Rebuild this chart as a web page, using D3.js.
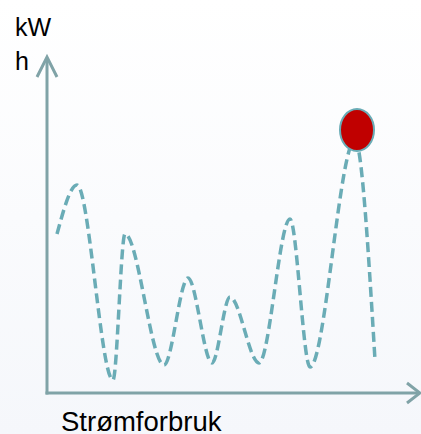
<!DOCTYPE html>
<html><head><meta charset="utf-8">
<script src="https://cdn.jsdelivr.net/npm/d3@7"></script>
<style>html,body{margin:0;padding:0;background:#fafbfd;}svg{display:block;}</style>
</head><body>
<script>
// Data (arbitrary units: x = position along consumption axis, y = kWh)
const xValues = [10, 30, 66, 78, 117, 141, 165, 183, 212, 243, 263, 308, 328];
const yValues = [159, 208, 13, 159, 28, 115, 30, 96, 30, 174, 26, 253, 33];
const peakMarker = {x: 310, y: 263};
const yLabelLines = ["kW", "h"];
const xLabel = "Strømforbruk";

const W = 421, H = 434;
const svg = d3.select("body").append("svg").attr("width", W).attr("height", H);

const defs = svg.append("defs");
const g = defs.append("linearGradient").attr("id","bg").attr("x1",0).attr("y1",0).attr("x2",0).attr("y2",1);
g.append("stop").attr("offset","0%").attr("stop-color","#ffffff");
g.append("stop").attr("offset","100%").attr("stop-color","#f5f7fb");
svg.append("rect").attr("width",W).attr("height",H).attr("fill","url(#bg)");

const x = d3.scaleLinear().domain([0, 373]).range([47, 420]);
const y = d3.scaleLinear().domain([0, 336]).range([393, 57]);

const axisColor = "#80a3a7";
// axes
svg.append("line").attr("x1", x(0)).attr("y1", y(0)+1.5).attr("x2", x(0)).attr("y2", y(336)+2)
  .attr("stroke", axisColor).attr("stroke-width", 3);
svg.append("line").attr("x1", x(0)-1.5).attr("y1", y(0)).attr("x2", x(373)-2).attr("y2", y(0))
  .attr("stroke", axisColor).attr("stroke-width", 3);
// arrowheads
svg.append("path").attr("d", `M${x(0)-10},${y(336)+20} L${x(0)},${y(336)} L${x(0)+10},${y(336)+20}`)
  .attr("fill","none").attr("stroke", axisColor).attr("stroke-width", 3);
svg.append("path").attr("d", `M${x(373)-13},${y(0)-10} L${x(373)},${y(0)} L${x(373)-13},${y(0)+10}`)
  .attr("fill","none").attr("stroke", axisColor).attr("stroke-width", 3);

// curve
const pts = xValues.map((v,i)=>[v, yValues[i]]);
const line = d3.line().x(d=>x(d[0])).y(d=>y(d[1])).curve(d3.curveMonotoneX);
svg.append("path").attr("d", line(pts)).attr("fill","none")
  .attr("stroke","#6aacb6").attr("stroke-width",3.5).attr("stroke-dasharray","10,5");

// marker
svg.append("ellipse").attr("cx", x(peakMarker.x)).attr("cy", y(peakMarker.y))
  .attr("rx", 17).attr("ry", 21).attr("fill","#c00000").attr("stroke","#6aacb6").attr("stroke-width",2);

// labels
const t = svg.append("text").attr("font-family","Liberation Sans, Arial, sans-serif").attr("font-size",25).attr("fill","#000");
yLabelLines.forEach((s,i)=>t.append("tspan").attr("x",15).attr("y",36+i*34).text(s));
svg.append("text").attr("x",61).attr("y",431).attr("font-family","Liberation Sans, Arial, sans-serif")
  .attr("font-size",27.5).attr("fill","#000").text(xLabel);
</script>
</body></html>
